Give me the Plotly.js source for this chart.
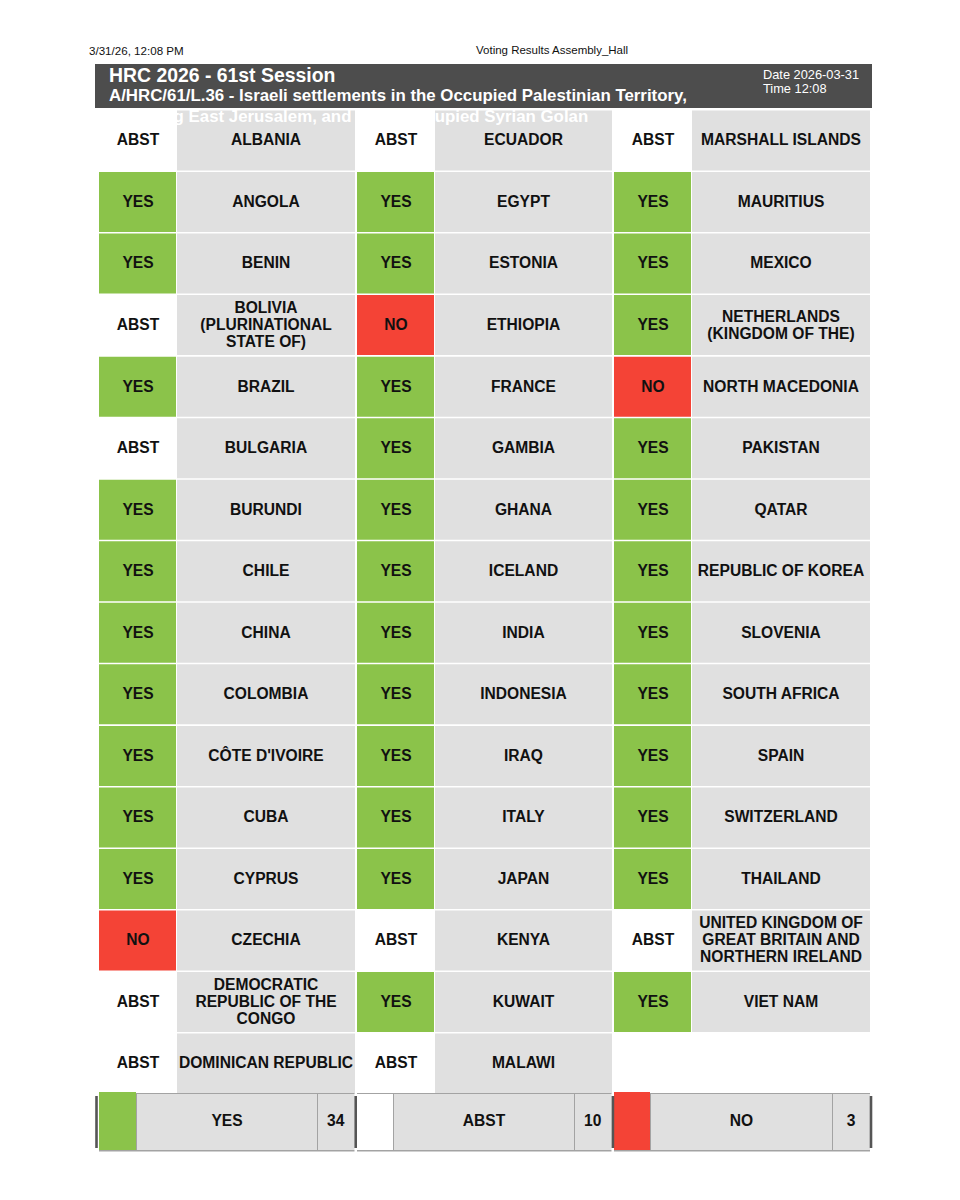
<!DOCTYPE html>
<html><head><meta charset="utf-8">
<script src="https://cdn.plot.ly/plotly-3.0.1.min.js"></script>
<style>html,body{margin:0;padding:0;background:#fff}#c{width:960px;height:1200px}</style>
</head><body><div id="c"></div>
<script>
const countriesA=["ALBANIA","ANGOLA","BENIN","BOLIVIA|(PLURINATIONAL|STATE OF)","BRAZIL","BULGARIA","BURUNDI","CHILE","CHINA","COLOMBIA","CÔTE D'IVOIRE","CUBA","CYPRUS","CZECHIA","DEMOCRATIC|REPUBLIC OF THE|CONGO","DOMINICAN REPUBLIC"];
const votesA=["ABST","YES","YES","ABST","YES","ABST","YES","YES","YES","YES","YES","YES","YES","NO","ABST","ABST"];
const countriesB=["ECUADOR","EGYPT","ESTONIA","ETHIOPIA","FRANCE","GAMBIA","GHANA","ICELAND","INDIA","INDONESIA","IRAQ","ITALY","JAPAN","KENYA","KUWAIT","MALAWI"];
const votesB=["ABST","YES","YES","NO","YES","YES","YES","YES","YES","YES","YES","YES","YES","ABST","YES","ABST"];
const countriesC=["MARSHALL ISLANDS","MAURITIUS","MEXICO","NETHERLANDS|(KINGDOM OF THE)","NORTH MACEDONIA","PAKISTAN","QATAR","REPUBLIC OF KOREA","SLOVENIA","SOUTH AFRICA","SPAIN","SWITZERLAND","THAILAND","UNITED KINGDOM OF|GREAT BRITAIN AND|NORTHERN IRELAND","VIET NAM"];
const votesC=["ABST","YES","YES","YES","NO","YES","YES","YES","YES","YES","YES","YES","YES","ABST","YES"];
const totalLabels=["YES","ABST","NO"];
const totalCounts=[34,10,3];

const voteColor={YES:"#8bc34a",ABST:"#ffffff",NO:"#f44336"};
const INK="#111111",GREY="#e0e0e0",DARK="#4d4d4d",EDGE="#a3a3a3",FONT="Liberation Sans, Arial, sans-serif";
const colX=[99,357,614],voteW=[77,77,77],nameW=[178,177,178];
const rowTop=i=>110.5+61.54*i,rowH=60;

const cells={x:[],w:[],base:[],h:[],c:[]};
function cell(x0,x1,y0,y1,c){cells.x.push((x0+x1)/2);cells.w.push(x1-x0);cells.base.push(y0);cells.h.push(y1-y0);cells.c.push(c);}
const lab={x:[],y:[],t:[]};
[[countriesA,votesA],[countriesB,votesB],[countriesC,votesC]].forEach(([names,votes],k)=>{
  const x0=colX[k],xm=x0+voteW[k]+1,x1=xm+nameW[k];
  names.forEach((n,i)=>{
    const t=rowTop(i),cy=t+31;
    cell(x0,x0+voteW[k],t,t+rowH,voteColor[votes[i]]);
    cell(xm,x1,t,t+rowH,GREY);
    lab.x.push(x0+voteW[k]/2+0.5);lab.y.push(cy);lab.t.push(votes[i]);
    const lines=n.split("|");
    lines.forEach((s,j)=>{lab.x.push((xm+x1)/2);lab.y.push(cy+(j-(lines.length-1)/2)*17);lab.t.push(s);});
  });
});

// totals strip
const stripX=[[99,136,317,354.5],[357,393,574,611.5],[614,650,832,870]];
stripX.forEach((s,k)=>{
  cell(s[1]+1,s[3],1094,1150,GREY);
  lab.x.push((s[1]+s[2])/2+0.5);lab.y.push(1122.5);lab.t.push(totalLabels[k]);
  lab.x.push((s[2]+s[3])/2);lab.y.push(1122.5);lab.t.push(String(totalCounts[k]));
});
const bar=(o,extra)=>Object.assign({type:"bar",x:o.x,y:o.h,base:o.base,width:o.w,marker:{color:o.c,line:{width:0}},hoverinfo:"skip",showlegend:false},extra||{});
const thin=(xs,y0,y1,w,c)=>({x:xs,h:xs.map(()=>y1-y0),base:xs.map(()=>y0),w:xs.map(()=>w),c:xs.map(()=>c)});

const data=[
  bar(cells),
  bar({x:stripX.map(s=>(s[0]+s[3])/2),h:[1.6,1.6,1.6],base:[1150,1150,1150],w:stripX.map(s=>s[3]-s[0]),c:[EDGE,EDGE,EDGE]}),
  bar({x:stripX.map(s=>(s[0]+s[3])/2),h:[1,1,1],base:[1093,1093,1093],w:stripX.map(s=>s[3]-s[0]),c:[EDGE,EDGE,EDGE]}),
  bar(thin([136.5,317.5,393.5,574.5,650.5,832.5],1094,1150,1,EDGE)),
  bar({x:stripX.map(s=>(s[0]+s[1])/2),h:[58,56,58],base:[1092,1094,1092],w:stripX.map(s=>s[1]-s[0]),c:totalLabels.map(v=>voteColor[v])}),
  bar(thin([96.5,355.7,612.9,871],1096,1148,2.6,"#555555")),
  {type:"scatter",mode:"text",x:lab.x,y:lab.y,text:lab.t,textposition:"middle center",
   textfont:{family:FONT,size:15.6,color:INK,weight:700},hoverinfo:"skip",showlegend:false},
  bar({x:[483.5],h:[44],base:[64],w:[777],c:[DARK]})
];

const note=(x,y,text,size,color,weight,anchor)=>({x,y,text,xref:"x",yref:"y",showarrow:false,xanchor:anchor||"left",yanchor:"middle",align:"left",
  font:{family:FONT,size,color,weight:weight||400},borderpad:0,borderwidth:0});
const annotations=[
  note(89,50,"3/31/26, 12:08 PM",11.6,INK),
  note(476,50,"Voting Results Assembly_Hall",11.5,INK),
  note(109,74.5,"HRC 2026 - 61st Session",19.4,"#ffffff",700),
  note(109,95,"A/HRC/61/L.36 - Israeli settlements in the Occupied Palestinian Territory,",16.85,"#ffffff",700),
  note(109,116,"including East Jerusalem, and in the occupied Syrian Golan",16.85,"#ffffff",700),
  note(763,74,"Date 2026-03-31",12.8,"#ffffff"),
  note(763,88,"Time 12:08",12.8,"#ffffff")
];
const hidden={visible:false,fixedrange:true};
Plotly.newPlot("c",data,{
  width:960,height:1200,margin:{l:0,r:0,t:0,b:0,pad:0},barmode:"overlay",
  paper_bgcolor:"#ffffff",plot_bgcolor:"#ffffff",showlegend:false,
  xaxis:Object.assign({range:[0,960]},hidden),
  yaxis:Object.assign({range:[1200,0]},hidden),
  annotations
},{displayModeBar:false,staticPlot:true});
</script></body></html>
